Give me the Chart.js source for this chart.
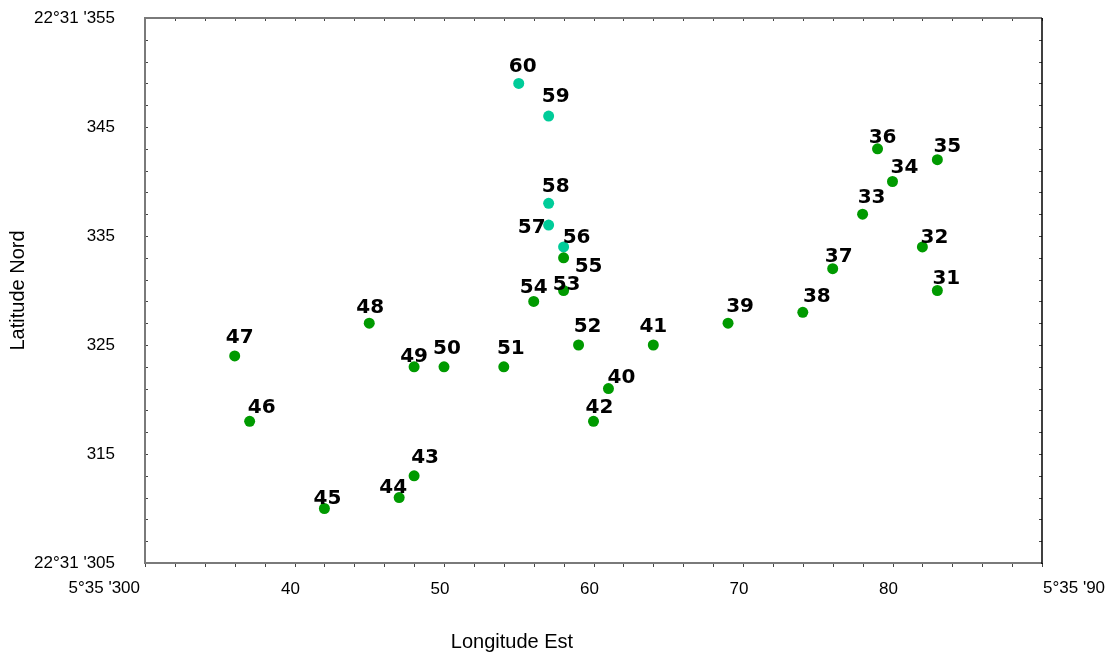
<!DOCTYPE html>
<html>
<head>
<meta charset="utf-8">
<script src="https://cdn.jsdelivr.net/npm/chart.js@4/dist/chart.umd.min.js"></script>
<style>
  html, body { margin: 0; padding: 0; background: #ffffff; }
  #wrap { width: 1106px; height: 654px; }
</style>
</head>
<body>
<div id="wrap"><canvas id="c" width="1106" height="654"></canvas></div>
<script>
// ---- data ----
const stations   = [31, 32, 33, 34, 35, 36, 37, 38, 39, 40, 41, 42, 43, 44, 45, 46, 47, 48, 49, 50, 51, 52, 53, 54, 55, 56, 57, 58, 59, 60];
const longitudes = [83, 82, 78, 80, 83, 79, 76, 74, 69, 61, 64, 60, 48, 47, 42, 37, 36, 45, 48, 50, 54, 59, 58, 56, 58, 58, 57, 57, 57, 55];
const latitudes  = [330, 334, 337, 340, 342, 343, 332, 328, 327, 321, 325, 318, 313, 311, 310, 318, 324, 327, 323, 323, 323, 325, 330, 329, 333, 334, 336, 338, 346, 349];
const cyanStations = [56, 57, 58, 59, 60];

const xTickValues = [40, 50, 60, 70, 80];
const xEndLabels  = ["5°35 '300", "5°35 '90"];
const yTickValues = [315, 325, 335, 345];
const yEndLabels  = ["22°31 '305", "22°31 '355"];
const xTitle = "Longitude Est";
const yTitle = "Latitude Nord";

// label placement (pixel offset of label centre from its point)
const labelOffsets = {
  31:[9,-14], 32:[12,-11], 33:[9,-18], 34:[12,-16], 35:[10,-15], 36:[5,-13],
  37:[6,-14], 38:[14,-17], 39:[12,-18], 40:[13,-13], 41:[0,-20], 42:[6,-15],
  43:[11,-20], 44:[-6,-12], 45:[3,-12], 46:[12,-15], 47:[5,-20], 48:[1,-17],
  49:[0,-12], 50:[3,-20], 51:[7,-20], 52:[9,-20], 53:[3,-8], 54:[0,-15],
  55:[25,7], 56:[13,-11], 57:[-17,1], 58:[7,-18], 59:[7,-21], 60:[4,-18]
};

const GREEN = '#009a00';
const CYAN  = '#00cc99';

function buildPoints(filterFn) {
  const pts = [];
  stations.forEach((s, i) => {
    if (filterFn(s)) pts.push({ x: longitudes[i], y: latitudes[i], st: s });
  });
  return pts;
}
const greenPts = buildPoints(s => !cyanStations.includes(s));
const cyanPts  = buildPoints(s => cyanStations.includes(s));

const axisFont = { family: "'Liberation Sans', Arial, sans-serif", size: 17 };

const framePlugin = {
  id: 'frame',
  beforeDatasetsDraw(chart) {
    const { ctx, chartArea: a, scales: { x, y } } = chart;
    ctx.save();
    // minor ticks
    ctx.lineWidth = 1;
    ctx.strokeStyle = '#444';
    x.ticks.forEach(t => {
      const px = Math.round(x.getPixelForValue(t.value)) + 0.5;
      ctx.beginPath(); ctx.moveTo(px, a.bottom); ctx.lineTo(px, a.bottom + 4); ctx.stroke();
      ctx.beginPath(); ctx.moveTo(px, a.top); ctx.lineTo(px, a.top + 3); ctx.stroke();
    });
    y.ticks.forEach(t => {
      const py = Math.round(y.getPixelForValue(t.value)) + 0.5;
      ctx.beginPath(); ctx.moveTo(a.left, py); ctx.lineTo(a.left + 3, py); ctx.stroke();
      ctx.beginPath(); ctx.moveTo(a.right, py); ctx.lineTo(a.right - 3, py); ctx.stroke();
    });
    // frame
    ctx.strokeStyle = '#7a7a7a';
    ctx.lineWidth = 2;
    ctx.beginPath();
    ctx.moveTo(a.right, a.top); ctx.lineTo(a.left, a.top); ctx.lineTo(a.left, a.bottom); ctx.lineTo(a.right, a.bottom);
    ctx.stroke();
    ctx.strokeStyle = '#000';
    ctx.lineWidth = 1.5;
    ctx.beginPath(); ctx.moveTo(a.right, a.top); ctx.lineTo(a.right, a.bottom + 1); ctx.stroke();
    ctx.restore();
  },
  afterDatasetsDraw(chart) {
    const { ctx, chartArea: a, scales: { x, y } } = chart;
    ctx.save();
    // x end labels
    ctx.fillStyle = '#000';
    ctx.font = "17px 'Liberation Sans', Arial, sans-serif";
    ctx.textBaseline = 'middle';
    ctx.textAlign = 'right';
    ctx.fillText(xEndLabels[0], x.getPixelForValue(x.min) - 5, a.bottom + 25);
    ctx.textAlign = 'left';
    ctx.fillText(xEndLabels[1], x.getPixelForValue(x.max) + 1, a.bottom + 25);
    // x title
    ctx.font = "20px 'Liberation Sans', Arial, sans-serif";
    ctx.textAlign = 'center';
    ctx.fillText(xTitle, 512, 642);
    // point labels
    ctx.font = "bold 20px 'DejaVu Sans', sans-serif";
    ctx.textAlign = 'center';
    ctx.textBaseline = 'alphabetic';
    chart.data.datasets.forEach((ds, di) => {
      const meta = chart.getDatasetMeta(di);
      meta.data.forEach((el, i) => {
        const st = ds.data[i].st;
        const off = labelOffsets[st] || [0, -16];
        ctx.fillText(String(st), el.x + off[0], el.y + off[1] + 7);
      });
    });
    ctx.restore();
  }
};

new Chart(document.getElementById('c'), {
  type: 'scatter',
  data: {
    datasets: [
      { label: 'st', data: greenPts, backgroundColor: GREEN, borderColor: GREEN, pointRadius: 5.5, pointHoverRadius: 5.5, borderWidth: 0 },
      { label: 'st2', data: cyanPts, backgroundColor: CYAN, borderColor: CYAN, pointRadius: 5.5, pointHoverRadius: 5.5, borderWidth: 0 }
    ]
  },
  options: {
    responsive: false,
    animation: false,
    events: [],
    layout: { padding: { left: 0, top: 18, right: 64, bottom: 0 } },
    plugins: { legend: { display: false }, tooltip: { enabled: false } },
    scales: {
      x: {
        type: 'linear', position: 'bottom', min: 30, max: 90,
        afterFit: s => { s.height = 91; s.paddingLeft = 0; s.paddingRight = 0; },
        grid: { display: false }, border: { display: false },
        ticks: {
          stepSize: 2, autoSkip: false, maxRotation: 0, padding: 8, labelOffset: -4,
          color: '#000', font: axisFont,
          callback: v => xTickValues.includes(v) ? String(v) : ''
        }
      },
      y: {
        type: 'linear', position: 'left', min: 305, max: 355,
        afterFit: s => { s.width = 145; s.paddingTop = 0; s.paddingBottom = 0; },
        grid: { display: false }, border: { display: false },
        title: { display: true, text: yTitle, color: '#000',
                 font: { family: "'Liberation Sans', Arial, sans-serif", size: 20 },
                 padding: { top: 6, bottom: 0 } },
        ticks: {
          stepSize: 2, autoSkip: false, padding: 22, color: '#000', font: axisFont,
          callback: v => v === 305 ? yEndLabels[0] : v === 355 ? yEndLabels[1] : (yTickValues.includes(v) ? String(v) : '')
        }
      }
    }
  },
  plugins: [framePlugin]
});
</script>
</body>
</html>
